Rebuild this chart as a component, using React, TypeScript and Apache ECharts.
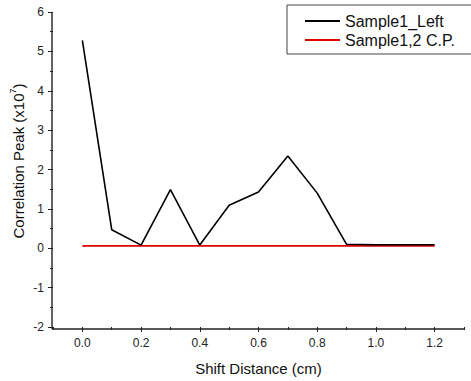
import React, { useEffect, useRef } from "react";
import * as echarts from "echarts";

const xValues = [0, 0.1, 0.2, 0.3, 0.4, 0.5, 0.6, 0.7, 0.8, 0.9, 1.0, 1.1, 1.2];
const sampleLeft = [5.28, 0.47, 0.08, 1.49, 0.08, 1.09, 1.43, 2.34, 1.4, 0.1, 0.09, 0.09, 0.09];
const sampleCP = [0.06, 0.06, 0.06, 0.06, 0.06, 0.06, 0.06, 0.06, 0.06, 0.06, 0.06, 0.06, 0.06];
const xLabelValues = [0, 0.2, 0.4, 0.6, 0.8, 1.0, 1.2];
const seriesNames = ["Sample1_Left", "Sample1,2 C.P."];
const xRange = [-0.1, 1.3];
const yRange = [-2, 6];

const FONT = "Liberation Sans, Arial, sans-serif";
const GRID = { left: 53, top: 12, right: 7, bottom: 53 };
const W = 471;
const H = 381;

export default function App() {
  const ref = useRef<HTMLDivElement>(null);
  useEffect(() => {
    if (!ref.current) return;
    const chart = echarts.init(ref.current, undefined, { renderer: "svg" });
    const gl = GRID.left;
    const gt = GRID.top;
    const gr = W - GRID.right;
    const gb = H - GRID.bottom;
    chart.setOption({
      animation: false,
      backgroundColor: "#ffffff",
      grid: { ...GRID, containLabel: false },
      legend: {
        orient: "vertical",
        left: 287,
        top: 5,
        padding: [8, 22, 6, 18],
        itemGap: 3,
        itemWidth: 35,
        itemHeight: 2,
        icon: "rect",
        borderColor: "#444",
        borderWidth: 1,
        textStyle: { fontFamily: FONT, fontSize: 16, color: "#111", lineHeight: 16 },
        data: seriesNames,
      },
      xAxis: [
        {
          type: "value",
          min: xRange[0],
          max: xRange[1],
          axisLine: { show: false, onZero: false },
          axisTick: { show: true, customValues: xLabelValues, length: 5, lineStyle: { color: "#222" } },
          axisLabel: {
            customValues: xLabelValues,
            formatter: (v: number) => v.toFixed(1),
            fontFamily: FONT,
            fontSize: 12,
            color: "#222",
            margin: 10,
          },
          splitLine: { show: false },
          name: "Shift Distance (cm)",
          nameLocation: "middle",
          nameGap: 34,
          nameTextStyle: { fontFamily: FONT, fontSize: 15, color: "#111" },
        },
        {
          type: "value",
          min: xRange[0],
          max: xRange[1],
          interval: 0.1,
          position: "bottom",
          axisLine: { show: false, onZero: false },
          axisTick: { show: true, length: 3, lineStyle: { color: "#222" } },
          axisLabel: { show: false },
          splitLine: { show: false },
        },
      ],
      yAxis: {
        type: "value",
        min: yRange[0],
        max: yRange[1],
        interval: 1,
        axisLine: { show: false, onZero: false },
        axisTick: { show: true, length: 5, lineStyle: { color: "#222" } },
        minorTick: { show: true, splitNumber: 2, length: 3, lineStyle: { color: "#222" } },
        axisLabel: { fontFamily: FONT, fontSize: 12, color: "#222", margin: 9 },
        splitLine: { show: false },
      },
      graphic: [
        {
          type: "text",
          x: 17,
          y: 161,
          rotation: Math.PI / 2,
          style: {
            text: "{a|Correlation Peak (x10}{s|7}{a|)}",
            align: "center",
            verticalAlign: "middle",
            rich: {
              a: { fontFamily: FONT, fontSize: 15, fill: "#111", lineHeight: 18, verticalAlign: "bottom" },
              s: { fontFamily: FONT, fontSize: 9, fill: "#111", lineHeight: 18, verticalAlign: "top", padding: [0, 0, 6, 0] },
            },
          },
        },
        {
          type: "line",
          silent: true,
          shape: { x1: gl - 1, y1: gt, x2: gl - 1, y2: gb + 1 },
          style: { stroke: "#222", lineWidth: 1.4 },
          z: 100,
        },
        {
          type: "line",
          silent: true,
          shape: { x1: gl - 1, y1: gb + 1, x2: gr, y2: gb + 1 },
          style: { stroke: "#222", lineWidth: 1.4 },
          z: 100,
        },
      ],
      series: [
        {
          name: seriesNames[0],
          type: "line",
          symbol: "none",
          data: xValues.map((x, i) => [x, sampleLeft[i]]),
          lineStyle: { color: "#000", width: 1.6 },
          itemStyle: { color: "#000" },
          z: 3,
        },
        {
          name: seriesNames[1],
          type: "line",
          symbol: "none",
          data: xValues.map((x, i) => [x, sampleCP[i]]),
          lineStyle: { color: "#e00000", width: 1.8 },
          itemStyle: { color: "#e00000" },
          z: 2,
        },
      ],
    });
    return () => chart.dispose();
  }, []);
  return <div ref={ref} style={{ width: W, height: H, position: "absolute", left: 0, top: 0 }} />;
}
